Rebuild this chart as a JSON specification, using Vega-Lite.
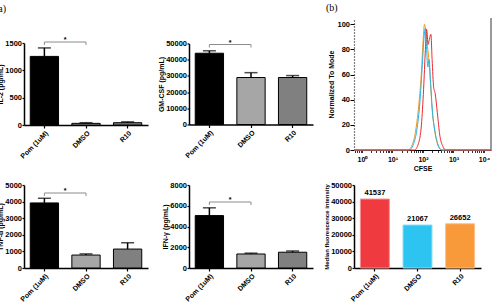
{
  "$schema": "https://vega.github.io/schema/vega-lite/v6.json",
  "padding": {"left": -5, "top": 3, "right": 0, "bottom": 0},
  "background": "white",
  "config": {
    "view": {"stroke": null},
    "font": "Liberation Sans",
    "axis": {
      "labelFont": "Liberation Sans", "labelFontWeight": "bold", "labelFontSize": 7.5, "labelColor": "black", "labelOverlap": false,
      "titleFont": "Liberation Sans", "titleFontWeight": "bold", "titleFontSize": 7, "titleColor": "black",
      "domainColor": "black", "domainWidth": 1.5, "tickColor": "black", "tickWidth": 1.2, "tickSize": 2,
      "grid": false, "titlePadding": 1, "labelPadding": 0.5
    },
    "axisX": {"labelAngle": -45, "labelFontSize": 7, "labelPadding": 1, "tickSize": 3, "titlePadding": 2},
    "title": {"font": "Liberation Serif", "fontWeight": "normal", "fontSize": 10, "color": "black", "anchor": "start", "frame": "group"}
  },
  "resolve": {"scale": {"color": "independent", "stroke": "independent"}},
  "columns": 3,
  "spacing": {"row": 35, "column": 41},
  "bounds": "flush",
  "center": true,
  "concat": [
    {
      "width": 124, "height": 82,
      "title": {"text": "(a)", "dx": -29, "offset": 22},
      "layer": [
        {
          "data": {"values": [
            {"group": "Pom (1uM)", "mean": 1255, "upper": 1410},
            {"group": "DMSO", "mean": 30, "upper": 42},
            {"group": "R10", "mean": 42, "upper": 58}
          ]},
          "layer": [
            {"mark": {"type": "bar", "stroke": "black", "strokeWidth": 1},
             "encoding": {
               "x": {"field": "group", "type": "nominal", "title": null, "scale": {"domain": ["Pom (1uM)", "DMSO", "R10"], "paddingInner": 0.32, "paddingOuter": 0.15}},
               "y": {"field": "mean", "type": "quantitative", "title": "IL-2 (pg/mL)", "scale": {"domain": [0, 1500], "nice": false}, "axis": {"values": [0, 500, 1000, 1500], "format": "d", "labelOverlap": false}},
               "color": {"field": "group", "type": "nominal", "scale": {"domain": ["Pom (1uM)", "DMSO", "R10"], "range": ["#000000", "#a6a6a6", "#808080"]}, "legend": null}
             }},
            {"mark": {"type": "rule", "strokeWidth": 1.5, "color": "black"},
             "encoding": {"x": {"field": "group", "type": "nominal", "title": null}, "y": {"field": "mean", "type": "quantitative", "title": "IL-2 (pg/mL)", "axis": {"values": [0, 500, 1000, 1500], "format": "d", "labelOverlap": false}}, "y2": {"field": "upper"}}},
            {"mark": {"type": "tick", "thickness": 1.5, "size": 13, "color": "black"},
             "encoding": {"x": {"field": "group", "type": "nominal", "title": null}, "y": {"field": "upper", "type": "quantitative", "title": "IL-2 (pg/mL)", "axis": {"values": [0, 500, 1000, 1500], "format": "d", "labelOverlap": false}}}}
          ]
        },
        {
          "data": {"values": [{"from": "Pom (1uM)", "to": "DMSO", "y": 1518, "yEnd": 1463, "star": "*"}]},
          "layer": [
            {"mark": {"type": "rule", "color": "#8c8c8c", "strokeWidth": 1},
             "encoding": {"x": {"field": "from", "type": "nominal", "title": null}, "x2": {"field": "to"}, "y": {"field": "y", "type": "quantitative", "title": "IL-2 (pg/mL)", "axis": {"values": [0, 500, 1000, 1500], "format": "d", "labelOverlap": false}}}},
            {"mark": {"type": "rule", "color": "#8c8c8c", "strokeWidth": 1},
             "encoding": {"x": {"field": "from", "type": "nominal", "title": null}, "y": {"field": "y", "type": "quantitative", "title": "IL-2 (pg/mL)", "axis": {"values": [0, 500, 1000, 1500], "format": "d", "labelOverlap": false}}, "y2": {"field": "yEnd"}}},
            {"mark": {"type": "rule", "color": "#8c8c8c", "strokeWidth": 1},
             "encoding": {"x": {"field": "to", "type": "nominal", "title": null}, "y": {"field": "y", "type": "quantitative", "title": "IL-2 (pg/mL)", "axis": {"values": [0, 500, 1000, 1500], "format": "d", "labelOverlap": false}}, "y2": {"field": "yEnd"}}},
            {"mark": {"type": "text", "fontSize": 7, "fontWeight": "bold", "baseline": "bottom", "dy": 1},
             "encoding": {"x": {"field": "from", "type": "nominal", "title": null, "bandPosition": 1.23}, "y": {"field": "y", "type": "quantitative", "title": "IL-2 (pg/mL)", "axis": {"values": [0, 500, 1000, 1500], "format": "d", "labelOverlap": false}}, "text": {"field": "star"}}}
          ]
        }
      ]
    },
    {
      "width": 124, "height": 81,
      "layer": [
        {
          "data": {"values": [
            {"group": "Pom (1uM)", "mean": 44000, "upper": 45500},
            {"group": "DMSO", "mean": 29000, "upper": 32000},
            {"group": "R10", "mean": 29000, "upper": 30200}
          ]},
          "layer": [
            {"mark": {"type": "bar", "stroke": "black", "strokeWidth": 1},
             "encoding": {
               "x": {"field": "group", "type": "nominal", "title": null, "scale": {"domain": ["Pom (1uM)", "DMSO", "R10"], "paddingInner": 0.32, "paddingOuter": 0.15}},
               "y": {"field": "mean", "type": "quantitative", "title": "GM-CSF (pg/mL)", "scale": {"domain": [0, 50000], "nice": false}, "axis": {"values": [0, 10000, 20000, 30000, 40000, 50000], "format": "d", "labelOverlap": false}},
               "color": {"field": "group", "type": "nominal", "scale": {"domain": ["Pom (1uM)", "DMSO", "R10"], "range": ["#000000", "#a6a6a6", "#808080"]}, "legend": null}
             }},
            {"mark": {"type": "rule", "strokeWidth": 1.5, "color": "black"},
             "encoding": {"x": {"field": "group", "type": "nominal", "title": null}, "y": {"field": "mean", "type": "quantitative", "title": "GM-CSF (pg/mL)", "axis": {"values": [0, 10000, 20000, 30000, 40000, 50000], "format": "d", "labelOverlap": false}}, "y2": {"field": "upper"}}},
            {"mark": {"type": "tick", "thickness": 1.5, "size": 13, "color": "black"},
             "encoding": {"x": {"field": "group", "type": "nominal", "title": null}, "y": {"field": "upper", "type": "quantitative", "title": "GM-CSF (pg/mL)", "axis": {"values": [0, 10000, 20000, 30000, 40000, 50000], "format": "d", "labelOverlap": false}}}}
          ]
        },
        {
          "data": {"values": [{"from": "Pom (1uM)", "to": "DMSO", "y": 49380, "yEnd": 47500, "star": "*"}]},
          "layer": [
            {"mark": {"type": "rule", "color": "#8c8c8c", "strokeWidth": 1},
             "encoding": {"x": {"field": "from", "type": "nominal", "title": null}, "x2": {"field": "to"}, "y": {"field": "y", "type": "quantitative", "title": "GM-CSF (pg/mL)", "axis": {"values": [0, 10000, 20000, 30000, 40000, 50000], "format": "d", "labelOverlap": false}}}},
            {"mark": {"type": "rule", "color": "#8c8c8c", "strokeWidth": 1},
             "encoding": {"x": {"field": "from", "type": "nominal", "title": null}, "y": {"field": "y", "type": "quantitative", "title": "GM-CSF (pg/mL)", "axis": {"values": [0, 10000, 20000, 30000, 40000, 50000], "format": "d", "labelOverlap": false}}, "y2": {"field": "yEnd"}}},
            {"mark": {"type": "rule", "color": "#8c8c8c", "strokeWidth": 1},
             "encoding": {"x": {"field": "to", "type": "nominal", "title": null}, "y": {"field": "y", "type": "quantitative", "title": "GM-CSF (pg/mL)", "axis": {"values": [0, 10000, 20000, 30000, 40000, 50000], "format": "d", "labelOverlap": false}}, "y2": {"field": "yEnd"}}},
            {"mark": {"type": "text", "fontSize": 7, "fontWeight": "bold", "baseline": "bottom", "dy": 1},
             "encoding": {"x": {"field": "from", "type": "nominal", "title": null, "bandPosition": 1.23}, "y": {"field": "y", "type": "quantitative", "title": "GM-CSF (pg/mL)", "axis": {"values": [0, 10000, 20000, 30000, 40000, 50000], "format": "d", "labelOverlap": false}}, "text": {"field": "star"}}}
          ]
        }
      ]
    },
    {
      "width": 137, "height": 132,
      "title": {"text": "(b)", "dx": -28, "offset": 4},
      "data": {"values": [
        {"sample": "R10", "logCFSE": -0.26, "pct": 0},
        {"sample": "R10", "logCFSE": 1.5, "pct": 0},
        {"sample": "R10", "logCFSE": 1.6, "pct": 2},
        {"sample": "R10", "logCFSE": 1.7, "pct": 8},
        {"sample": "R10", "logCFSE": 1.8, "pct": 22},
        {"sample": "R10", "logCFSE": 1.88, "pct": 40},
        {"sample": "R10", "logCFSE": 1.95, "pct": 62},
        {"sample": "R10", "logCFSE": 2.0, "pct": 85},
        {"sample": "R10", "logCFSE": 2.05, "pct": 100},
        {"sample": "R10", "logCFSE": 2.1, "pct": 94},
        {"sample": "R10", "logCFSE": 2.15, "pct": 82},
        {"sample": "R10", "logCFSE": 2.2, "pct": 70},
        {"sample": "R10", "logCFSE": 2.25, "pct": 52},
        {"sample": "R10", "logCFSE": 2.3, "pct": 33},
        {"sample": "R10", "logCFSE": 2.38, "pct": 16},
        {"sample": "R10", "logCFSE": 2.46, "pct": 6},
        {"sample": "R10", "logCFSE": 2.55, "pct": 1},
        {"sample": "R10", "logCFSE": 2.65, "pct": 0},
        {"sample": "R10", "logCFSE": 4.23, "pct": 0},
        {"sample": "DMSO", "logCFSE": -0.26, "pct": 0},
        {"sample": "DMSO", "logCFSE": 1.55, "pct": 0},
        {"sample": "DMSO", "logCFSE": 1.68, "pct": 4},
        {"sample": "DMSO", "logCFSE": 1.8, "pct": 16},
        {"sample": "DMSO", "logCFSE": 1.9, "pct": 38},
        {"sample": "DMSO", "logCFSE": 1.98, "pct": 68},
        {"sample": "DMSO", "logCFSE": 2.03, "pct": 88},
        {"sample": "DMSO", "logCFSE": 2.08, "pct": 97},
        {"sample": "DMSO", "logCFSE": 2.12, "pct": 80},
        {"sample": "DMSO", "logCFSE": 2.16, "pct": 66},
        {"sample": "DMSO", "logCFSE": 2.2, "pct": 72},
        {"sample": "DMSO", "logCFSE": 2.25, "pct": 54},
        {"sample": "DMSO", "logCFSE": 2.3, "pct": 34},
        {"sample": "DMSO", "logCFSE": 2.4, "pct": 14},
        {"sample": "DMSO", "logCFSE": 2.5, "pct": 4},
        {"sample": "DMSO", "logCFSE": 2.6, "pct": 0},
        {"sample": "DMSO", "logCFSE": 4.23, "pct": 0},
        {"sample": "Pom (1uM)", "logCFSE": -0.26, "pct": 0},
        {"sample": "Pom (1uM)", "logCFSE": 1.72, "pct": 0},
        {"sample": "Pom (1uM)", "logCFSE": 1.85, "pct": 5},
        {"sample": "Pom (1uM)", "logCFSE": 1.95, "pct": 20},
        {"sample": "Pom (1uM)", "logCFSE": 2.02, "pct": 48},
        {"sample": "Pom (1uM)", "logCFSE": 2.08, "pct": 80},
        {"sample": "Pom (1uM)", "logCFSE": 2.12, "pct": 96},
        {"sample": "Pom (1uM)", "logCFSE": 2.17, "pct": 84},
        {"sample": "Pom (1uM)", "logCFSE": 2.21, "pct": 88},
        {"sample": "Pom (1uM)", "logCFSE": 2.26, "pct": 92},
        {"sample": "Pom (1uM)", "logCFSE": 2.3, "pct": 72},
        {"sample": "Pom (1uM)", "logCFSE": 2.35, "pct": 50},
        {"sample": "Pom (1uM)", "logCFSE": 2.4, "pct": 45},
        {"sample": "Pom (1uM)", "logCFSE": 2.47, "pct": 30},
        {"sample": "Pom (1uM)", "logCFSE": 2.55, "pct": 12},
        {"sample": "Pom (1uM)", "logCFSE": 2.65, "pct": 3},
        {"sample": "Pom (1uM)", "logCFSE": 2.75, "pct": 0},
        {"sample": "Pom (1uM)", "logCFSE": 4.23, "pct": 0}
      ]},
      "layer": [
        {"mark": {"type": "rule", "color": "#9a9a9a", "strokeWidth": 2},
         "encoding": {
           "x": {"aggregate": "max", "field": "logCFSE", "type": "quantitative", "title": "CFSE",
                 "axis": {"titleFontSize": 7, "titlePadding": 2, "labelAngle": 0, "labelFontSize": 7, "labelPadding": 3, "labelFlush": false, "labelOverlap": false, "domainWidth": 1, "tickWidth": 0.8, "tickSize": 2.5,
                          "values": [-0.222,-0.155,-0.097,-0.046,0,0.301,0.477,0.602,0.699,0.778,0.845,0.903,0.954,1,1.301,1.477,1.602,1.699,1.778,1.845,1.903,1.954,2,2.301,2.477,2.602,2.699,2.778,2.845,2.903,2.954,3,3.301,3.477,3.602,3.699,3.778,3.845,3.903,3.954,4],
                          "labelExpr": "['10⁰','10¹','10²','10³','10⁴'][datum.value] || ''"}},
           "y": {"datum": 0, "type": "quantitative", "title": "Normalized To Mode",
                 "axis": {"titleFontSize": 7, "titlePadding": 2, "values": [0, 20, 40, 60, 80, 100], "labelOverlap": false, "domainDash": [1, 2], "domainWidth": 1.2, "tickSize": 4, "tickWidth": 1}},
           "y2": {"datum": 105}
         }},
        {"mark": {"type": "line", "strokeWidth": 1, "interpolate": "monotone"},
         "encoding": {
           "x": {"field": "logCFSE", "type": "quantitative", "title": "CFSE", "scale": {"domain": [-0.26, 4.23], "nice": false, "zero": false},
                 "axis": {"titleFontSize": 7, "titlePadding": 2, "labelAngle": 0, "labelFontSize": 7, "labelPadding": 3, "labelFlush": false, "labelOverlap": false, "domainWidth": 1, "tickWidth": 0.8, "tickSize": 2.5,
                          "values": [-0.222,-0.155,-0.097,-0.046,0,0.301,0.477,0.602,0.699,0.778,0.845,0.903,0.954,1,1.301,1.477,1.602,1.699,1.778,1.845,1.903,1.954,2,2.301,2.477,2.602,2.699,2.778,2.845,2.903,2.954,3,3.301,3.477,3.602,3.699,3.778,3.845,3.903,3.954,4],
                          "labelExpr": "['10⁰','10¹','10²','10³','10⁴'][datum.value] || ''"}},
           "y": {"field": "pct", "type": "quantitative", "title": "Normalized To Mode", "scale": {"domain": [0, 105], "nice": false},
                 "axis": {"titleFontSize": 7, "titlePadding": 2, "values": [0, 20, 40, 60, 80, 100], "labelOverlap": false, "domainDash": [1, 2], "domainWidth": 1.2, "tickSize": 4, "tickWidth": 1}},
           "color": {"field": "sample", "type": "nominal", "scale": {"domain": ["Pom (1uM)", "DMSO", "R10"], "range": ["#ee2a2f", "#27b6e6", "#f7941d"]}, "legend": null}
         }}
      ]
    },
    {
      "width": 124, "height": 83,
      "layer": [
        {
          "data": {"values": [
            {"group": "Pom (1uM)", "mean": 3920, "upper": 4200},
            {"group": "DMSO", "mean": 780, "upper": 850},
            {"group": "R10", "mean": 1140, "upper": 1520}
          ]},
          "layer": [
            {"mark": {"type": "bar", "stroke": "black", "strokeWidth": 1},
             "encoding": {
               "x": {"field": "group", "type": "nominal", "title": null, "scale": {"domain": ["Pom (1uM)", "DMSO", "R10"], "paddingInner": 0.32, "paddingOuter": 0.15}},
               "y": {"field": "mean", "type": "quantitative", "title": "TNF-α (pg/mL)", "scale": {"domain": [0, 5000], "nice": false}, "axis": {"values": [0, 1000, 2000, 3000, 4000, 5000], "format": "d", "labelOverlap": false}},
               "color": {"field": "group", "type": "nominal", "scale": {"domain": ["Pom (1uM)", "DMSO", "R10"], "range": ["#000000", "#a6a6a6", "#808080"]}, "legend": null}
             }},
            {"mark": {"type": "rule", "strokeWidth": 1.5, "color": "black"},
             "encoding": {"x": {"field": "group", "type": "nominal", "title": null}, "y": {"field": "mean", "type": "quantitative", "title": "TNF-α (pg/mL)", "axis": {"values": [0, 1000, 2000, 3000, 4000, 5000], "format": "d", "labelOverlap": false}}, "y2": {"field": "upper"}}},
            {"mark": {"type": "tick", "thickness": 1.5, "size": 13, "color": "black"},
             "encoding": {"x": {"field": "group", "type": "nominal", "title": null}, "y": {"field": "upper", "type": "quantitative", "title": "TNF-α (pg/mL)", "axis": {"values": [0, 1000, 2000, 3000, 4000, 5000], "format": "d", "labelOverlap": false}}}}
          ]
        },
        {
          "data": {"values": [{"from": "Pom (1uM)", "to": "DMSO", "y": 4518, "yEnd": 4337, "star": "*"}]},
          "layer": [
            {"mark": {"type": "rule", "color": "#8c8c8c", "strokeWidth": 1},
             "encoding": {"x": {"field": "from", "type": "nominal", "title": null}, "x2": {"field": "to"}, "y": {"field": "y", "type": "quantitative", "title": "TNF-α (pg/mL)", "axis": {"values": [0, 1000, 2000, 3000, 4000, 5000], "format": "d", "labelOverlap": false}}}},
            {"mark": {"type": "rule", "color": "#8c8c8c", "strokeWidth": 1},
             "encoding": {"x": {"field": "from", "type": "nominal", "title": null}, "y": {"field": "y", "type": "quantitative", "title": "TNF-α (pg/mL)", "axis": {"values": [0, 1000, 2000, 3000, 4000, 5000], "format": "d", "labelOverlap": false}}, "y2": {"field": "yEnd"}}},
            {"mark": {"type": "rule", "color": "#8c8c8c", "strokeWidth": 1},
             "encoding": {"x": {"field": "to", "type": "nominal", "title": null}, "y": {"field": "y", "type": "quantitative", "title": "TNF-α (pg/mL)", "axis": {"values": [0, 1000, 2000, 3000, 4000, 5000], "format": "d", "labelOverlap": false}}, "y2": {"field": "yEnd"}}},
            {"mark": {"type": "text", "fontSize": 7, "fontWeight": "bold", "baseline": "bottom", "dy": 1},
             "encoding": {"x": {"field": "from", "type": "nominal", "title": null, "bandPosition": 1.23}, "y": {"field": "y", "type": "quantitative", "title": "TNF-α (pg/mL)", "axis": {"values": [0, 1000, 2000, 3000, 4000, 5000], "format": "d", "labelOverlap": false}}, "text": {"field": "star"}}}
          ]
        }
      ]
    },
    {
      "width": 124, "height": 83,
      "layer": [
        {
          "data": {"values": [
            {"group": "Pom (1uM)", "mean": 5050, "upper": 5800},
            {"group": "DMSO", "mean": 1350, "upper": 1430},
            {"group": "R10", "mean": 1520, "upper": 1640}
          ]},
          "layer": [
            {"mark": {"type": "bar", "stroke": "black", "strokeWidth": 1},
             "encoding": {
               "x": {"field": "group", "type": "nominal", "title": null, "scale": {"domain": ["Pom (1uM)", "DMSO", "R10"], "paddingInner": 0.32, "paddingOuter": 0.15}},
               "y": {"field": "mean", "type": "quantitative", "title": "IFN-γ (pg/mL)", "scale": {"domain": [0, 8000], "nice": false}, "axis": {"values": [0, 2000, 4000, 6000, 8000], "format": "d", "labelOverlap": false}},
               "color": {"field": "group", "type": "nominal", "scale": {"domain": ["Pom (1uM)", "DMSO", "R10"], "range": ["#000000", "#a6a6a6", "#808080"]}, "legend": null}
             }},
            {"mark": {"type": "rule", "strokeWidth": 1.5, "color": "black"},
             "encoding": {"x": {"field": "group", "type": "nominal", "title": null}, "y": {"field": "mean", "type": "quantitative", "title": "IFN-γ (pg/mL)", "axis": {"values": [0, 2000, 4000, 6000, 8000], "format": "d", "labelOverlap": false}}, "y2": {"field": "upper"}}},
            {"mark": {"type": "tick", "thickness": 1.5, "size": 13, "color": "black"},
             "encoding": {"x": {"field": "group", "type": "nominal", "title": null}, "y": {"field": "upper", "type": "quantitative", "title": "IFN-γ (pg/mL)", "axis": {"values": [0, 2000, 4000, 6000, 8000], "format": "d", "labelOverlap": false}}}}
          ]
        },
        {
          "data": {"values": [{"from": "Pom (1uM)", "to": "DMSO", "y": 6361, "yEnd": 6072, "star": "*"}]},
          "layer": [
            {"mark": {"type": "rule", "color": "#8c8c8c", "strokeWidth": 1},
             "encoding": {"x": {"field": "from", "type": "nominal", "title": null}, "x2": {"field": "to"}, "y": {"field": "y", "type": "quantitative", "title": "IFN-γ (pg/mL)", "axis": {"values": [0, 2000, 4000, 6000, 8000], "format": "d", "labelOverlap": false}}}},
            {"mark": {"type": "rule", "color": "#8c8c8c", "strokeWidth": 1},
             "encoding": {"x": {"field": "from", "type": "nominal", "title": null}, "y": {"field": "y", "type": "quantitative", "title": "IFN-γ (pg/mL)", "axis": {"values": [0, 2000, 4000, 6000, 8000], "format": "d", "labelOverlap": false}}, "y2": {"field": "yEnd"}}},
            {"mark": {"type": "rule", "color": "#8c8c8c", "strokeWidth": 1},
             "encoding": {"x": {"field": "to", "type": "nominal", "title": null}, "y": {"field": "y", "type": "quantitative", "title": "IFN-γ (pg/mL)", "axis": {"values": [0, 2000, 4000, 6000, 8000], "format": "d", "labelOverlap": false}}, "y2": {"field": "yEnd"}}},
            {"mark": {"type": "text", "fontSize": 7, "fontWeight": "bold", "baseline": "bottom", "dy": 1},
             "encoding": {"x": {"field": "from", "type": "nominal", "title": null, "bandPosition": 1.23}, "y": {"field": "y", "type": "quantitative", "title": "IFN-γ (pg/mL)", "axis": {"values": [0, 2000, 4000, 6000, 8000], "format": "d", "labelOverlap": false}}, "text": {"field": "star"}}}
          ]
        }
      ]
    },
    {
      "width": 127, "height": 83,
      "data": {"values": [
        {"group": "Pom (1uM)", "mfi": 41537, "label": "41537"},
        {"group": "DMSO", "mfi": 25900, "label": "21067"},
        {"group": "R10", "mfi": 26652, "label": "26652"}
      ]},
      "layer": [
        {"mark": {"type": "bar", "strokeWidth": 1},
         "encoding": {
           "x": {"field": "group", "type": "nominal", "title": null, "scale": {"domain": ["Pom (1uM)", "DMSO", "R10"], "paddingInner": 0.32, "paddingOuter": 0.15}},
           "y": {"field": "mfi", "type": "quantitative", "title": "Median fluorescence intensity", "scale": {"domain": [0, 50000], "nice": false}, "axis": {"values": [0, 10000, 20000, 30000, 40000, 50000], "format": "d", "labelOverlap": false, "titleFontSize": 6}},
           "color": {"field": "group", "type": "nominal", "scale": {"domain": ["Pom (1uM)", "DMSO", "R10"], "range": ["#ef3b3f", "#2ec4f2", "#f89a3a"]}, "legend": null},
           "stroke": {"field": "group", "type": "nominal", "scale": {"domain": ["Pom (1uM)", "DMSO", "R10"], "range": ["#f58f91", "#8fdcf6", "#fbc08a"]}, "legend": null}
         }},
        {"mark": {"type": "text", "fontSize": 7.5, "fontWeight": "bold", "baseline": "bottom", "dy": -2},
         "encoding": {
           "x": {"field": "group", "type": "nominal", "title": null},
           "y": {"field": "mfi", "type": "quantitative", "title": "Median fluorescence intensity", "axis": {"values": [0, 10000, 20000, 30000, 40000, 50000], "format": "d", "labelOverlap": false, "titleFontSize": 6}},
           "text": {"field": "label"}
         }}
      ]
    }
  ]
}
